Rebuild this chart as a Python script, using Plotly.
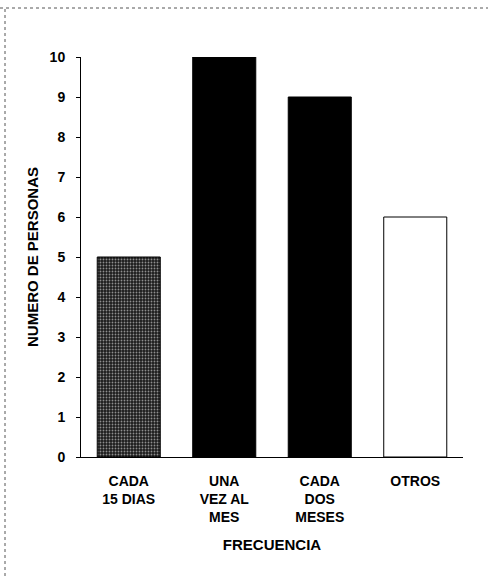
import plotly.graph_objects as go

categories = ["CADA<br>15 DIAS", "UNA<br>VEZ AL<br>MES", "CADA<br>DOS<br>MESES", "OTROS"]
values = [5, 10, 9, 6]
y_ticks = [0, 1, 2, 3, 4, 5, 6, 7, 8, 9, 10]

fill_colors = ["#1c1c1c", "#000000", "#000000", "#ffffff"]
patterns = [".", "", "", ""]

fam = "Liberation Sans, Arial"
tick_font = dict(family=fam, size=14, color="#000", weight="bold")
title_font = dict(family=fam, size=15, color="#000", weight="bold")

fig = go.Figure(go.Bar(
    x=categories, y=values,
    width=0.66,
    marker=dict(
        color=fill_colors,
        line=dict(color="#000", width=1),
        pattern=dict(shape=patterns, fgcolor="#a8a8a8", size=3, solidity=0.3),
    ),
))

fig.update_layout(
    width=488, height=576,
    margin=dict(l=81, r=25, t=57, b=119),
    plot_bgcolor="white", paper_bgcolor="white",
    showlegend=False,
    xaxis=dict(
        title=dict(text="FRECUENCIA", font=title_font, standoff=15),
        showline=True, linecolor="#000", linewidth=1,
        ticks="", tickfont=tick_font, range=[-0.5, 3.5],
        ticklabelstandoff=11,
        showgrid=False,
    ),
    yaxis=dict(
        title=dict(text="NUMERO DE PERSONAS", font=title_font, standoff=7),
        range=[0, 10], tickvals=y_ticks,
        showline=True, linecolor="#000", linewidth=1,
        ticks="outside", ticklen=4, tickcolor="#000",
        ticklabelstandoff=8,
        tickfont=tick_font, showgrid=False, zeroline=False,
    ),
    shapes=[
        dict(type="line", xref="paper", yref="paper", x0=-81/382, x1=1+25/382,
             y0=1+49/400, y1=1+49/400, line=dict(color="#555", width=1, dash="dot")),
        dict(type="line", xref="paper", yref="paper", x0=-76/382, x1=-76/382,
             y0=-119/400, y1=1+49/400, line=dict(color="#555", width=1, dash="dot")),
    ],
)

fig.write_html("out.html")
